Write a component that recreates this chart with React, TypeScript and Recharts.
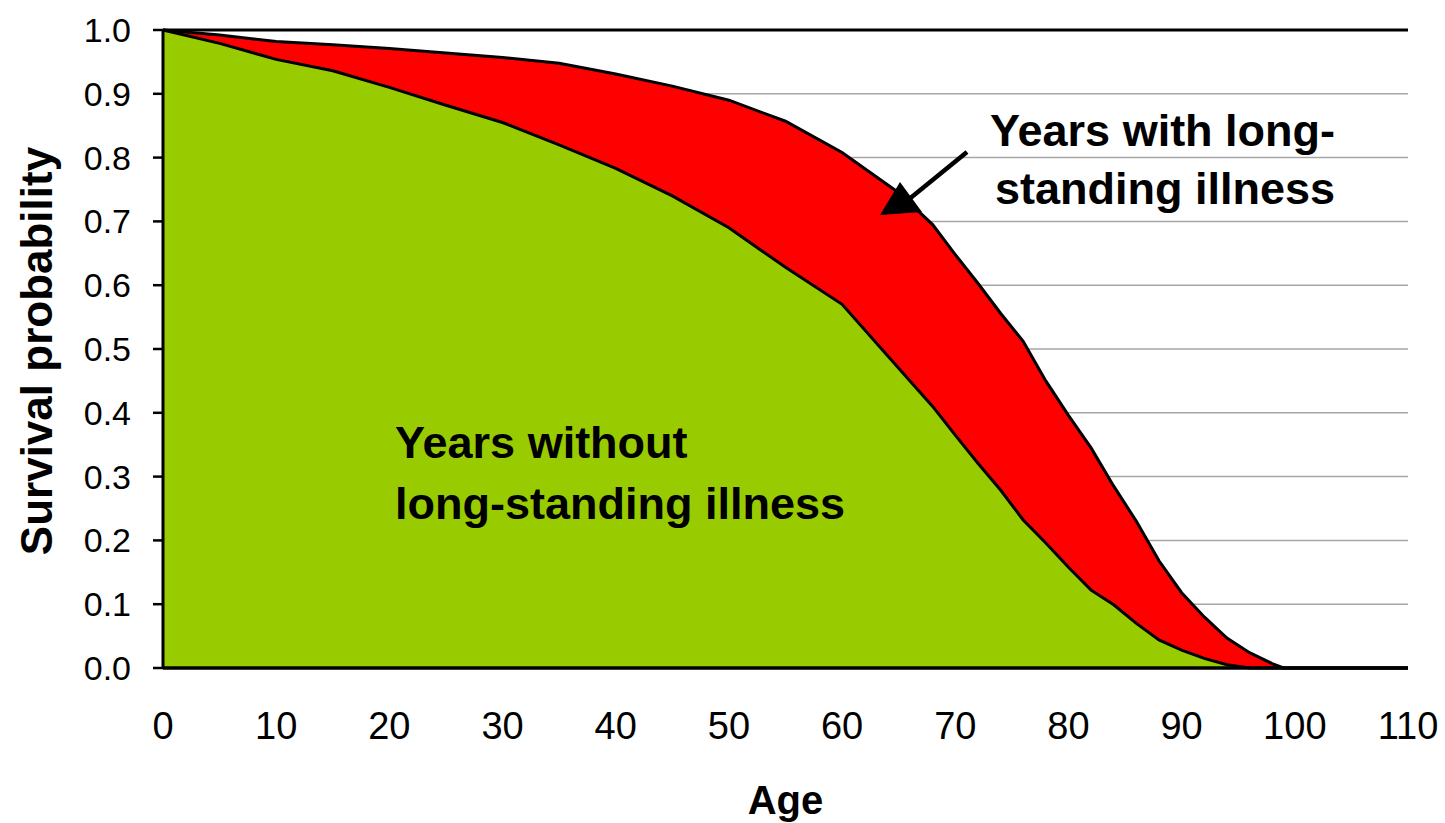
import { ComposedChart, Area, XAxis, YAxis, CartesianGrid, ReferenceLine } from "recharts"

const ages = [0, 5, 10, 15, 20, 25, 30, 35, 40, 45, 50, 55, 60, 65, 68, 70, 72, 74, 76, 78, 80, 82, 84, 86, 88, 90, 92, 94, 96, 98, 99, 100, 110]
const totalSurvival = [1.0, 0.992, 0.982, 0.977, 0.971, 0.964, 0.957, 0.948, 0.931, 0.912, 0.89, 0.857, 0.808, 0.745, 0.695, 0.648, 0.603, 0.556, 0.512, 0.45, 0.396, 0.345, 0.285, 0.23, 0.168, 0.118, 0.08, 0.047, 0.024, 0.007, 0, 0, 0]
const healthySurvival = [1.0, 0.979, 0.954, 0.936, 0.91, 0.882, 0.855, 0.82, 0.783, 0.74, 0.69, 0.628, 0.57, 0.47, 0.41, 0.365, 0.321, 0.279, 0.232, 0.196, 0.158, 0.122, 0.099, 0.07, 0.044, 0.028, 0.015, 0.005, 0, 0, 0, 0, 0]

const xTicks = [0, 10, 20, 30, 40, 50, 60, 70, 80, 90, 100, 110]
const yTicks = [0, 0.1, 0.2, 0.3, 0.4, 0.5, 0.6, 0.7, 0.8, 0.9, 1.0]

const data = ages.map((age, i) => ({
  age,
  total: totalSurvival[i],
  healthy: healthySurvival[i],
}))

const font = "'Liberation Sans', Arial, sans-serif"

export default function App() {
  return (
    <div style={{ position: "absolute", left: 0, top: 0, width: 1445, height: 823, fontFamily: font }}>
      <ComposedChart width={1445} height={823} data={data} margin={{ top: 30, right: 37, left: 0, bottom: 0 }}>
        <CartesianGrid vertical={false} stroke="#a6a6a6" strokeWidth={1.5} />
        <Area
          type="linear"
          dataKey="total"
          fill="#ff0000"
          fillOpacity={1}
          stroke="#000"
          strokeWidth={3}
          dot={false}
          activeDot={false}
          isAnimationActive={false}
        />
        <Area
          type="linear"
          dataKey="healthy"
          fill="#99cc00"
          fillOpacity={1}
          stroke="#000"
          strokeWidth={3}
          dot={false}
          activeDot={false}
          isAnimationActive={false}
        />
        <ReferenceLine y={1} stroke="#000" strokeWidth={3} />
        <XAxis
          dataKey="age"
          type="number"
          domain={[0, 110]}
          ticks={xTicks}
          height={155}
          axisLine={{ stroke: "#000", strokeWidth: 3.5 }}
          tickLine={false}
          tickSize={0}
          tickMargin={44}
          tick={{ fill: "#000", fontSize: 38, fontFamily: font }}
          interval={0}
          label={{ value: "Age", position: "insideBottom", offset: 9, fill: "#000", fontSize: 40, fontWeight: "bold", fontFamily: font }}
        />
        <YAxis
          type="number"
          domain={[0, 1]}
          ticks={yTicks}
          width={163}
          axisLine={{ stroke: "#000", strokeWidth: 3 }}
          tickLine={{ stroke: "#000", strokeWidth: 2.5 }}
          tickSize={10}
          tickMargin={22}
          tick={{ fill: "#000", fontSize: 34, fontFamily: font }}
          tickFormatter={(v: number) => v.toFixed(1)}
          interval={0}
        />
      </ComposedChart>
      <svg width={1445} height={823} style={{ position: "absolute", left: 0, top: 0, pointerEvents: "none" }}>
        <text
          x={36}
          y={351}
          transform="rotate(-90 36 351)"
          textAnchor="middle"
          dominantBaseline="central"
          fontSize={44}
          fontWeight="bold"
          fontFamily={font}
          fill="#000"
        >
          Survival probability
        </text>
        <g fontSize={45} fontWeight="bold" fontFamily={font} fill="#000">
          <text x={395} y={458}>Years without</text>
          <text x={395} y={519}>long-standing illness</text>
          <text x={990} y={146}>Years with long-</text>
          <text x={995} y={204}>standing illness</text>
        </g>
        <line x1={967} y1={152} x2={908} y2={200} stroke="#000" strokeWidth={4.5} />
        <polygon points="880,215 900,182 922,212" fill="#000" />
      </svg>
    </div>
  )
}
